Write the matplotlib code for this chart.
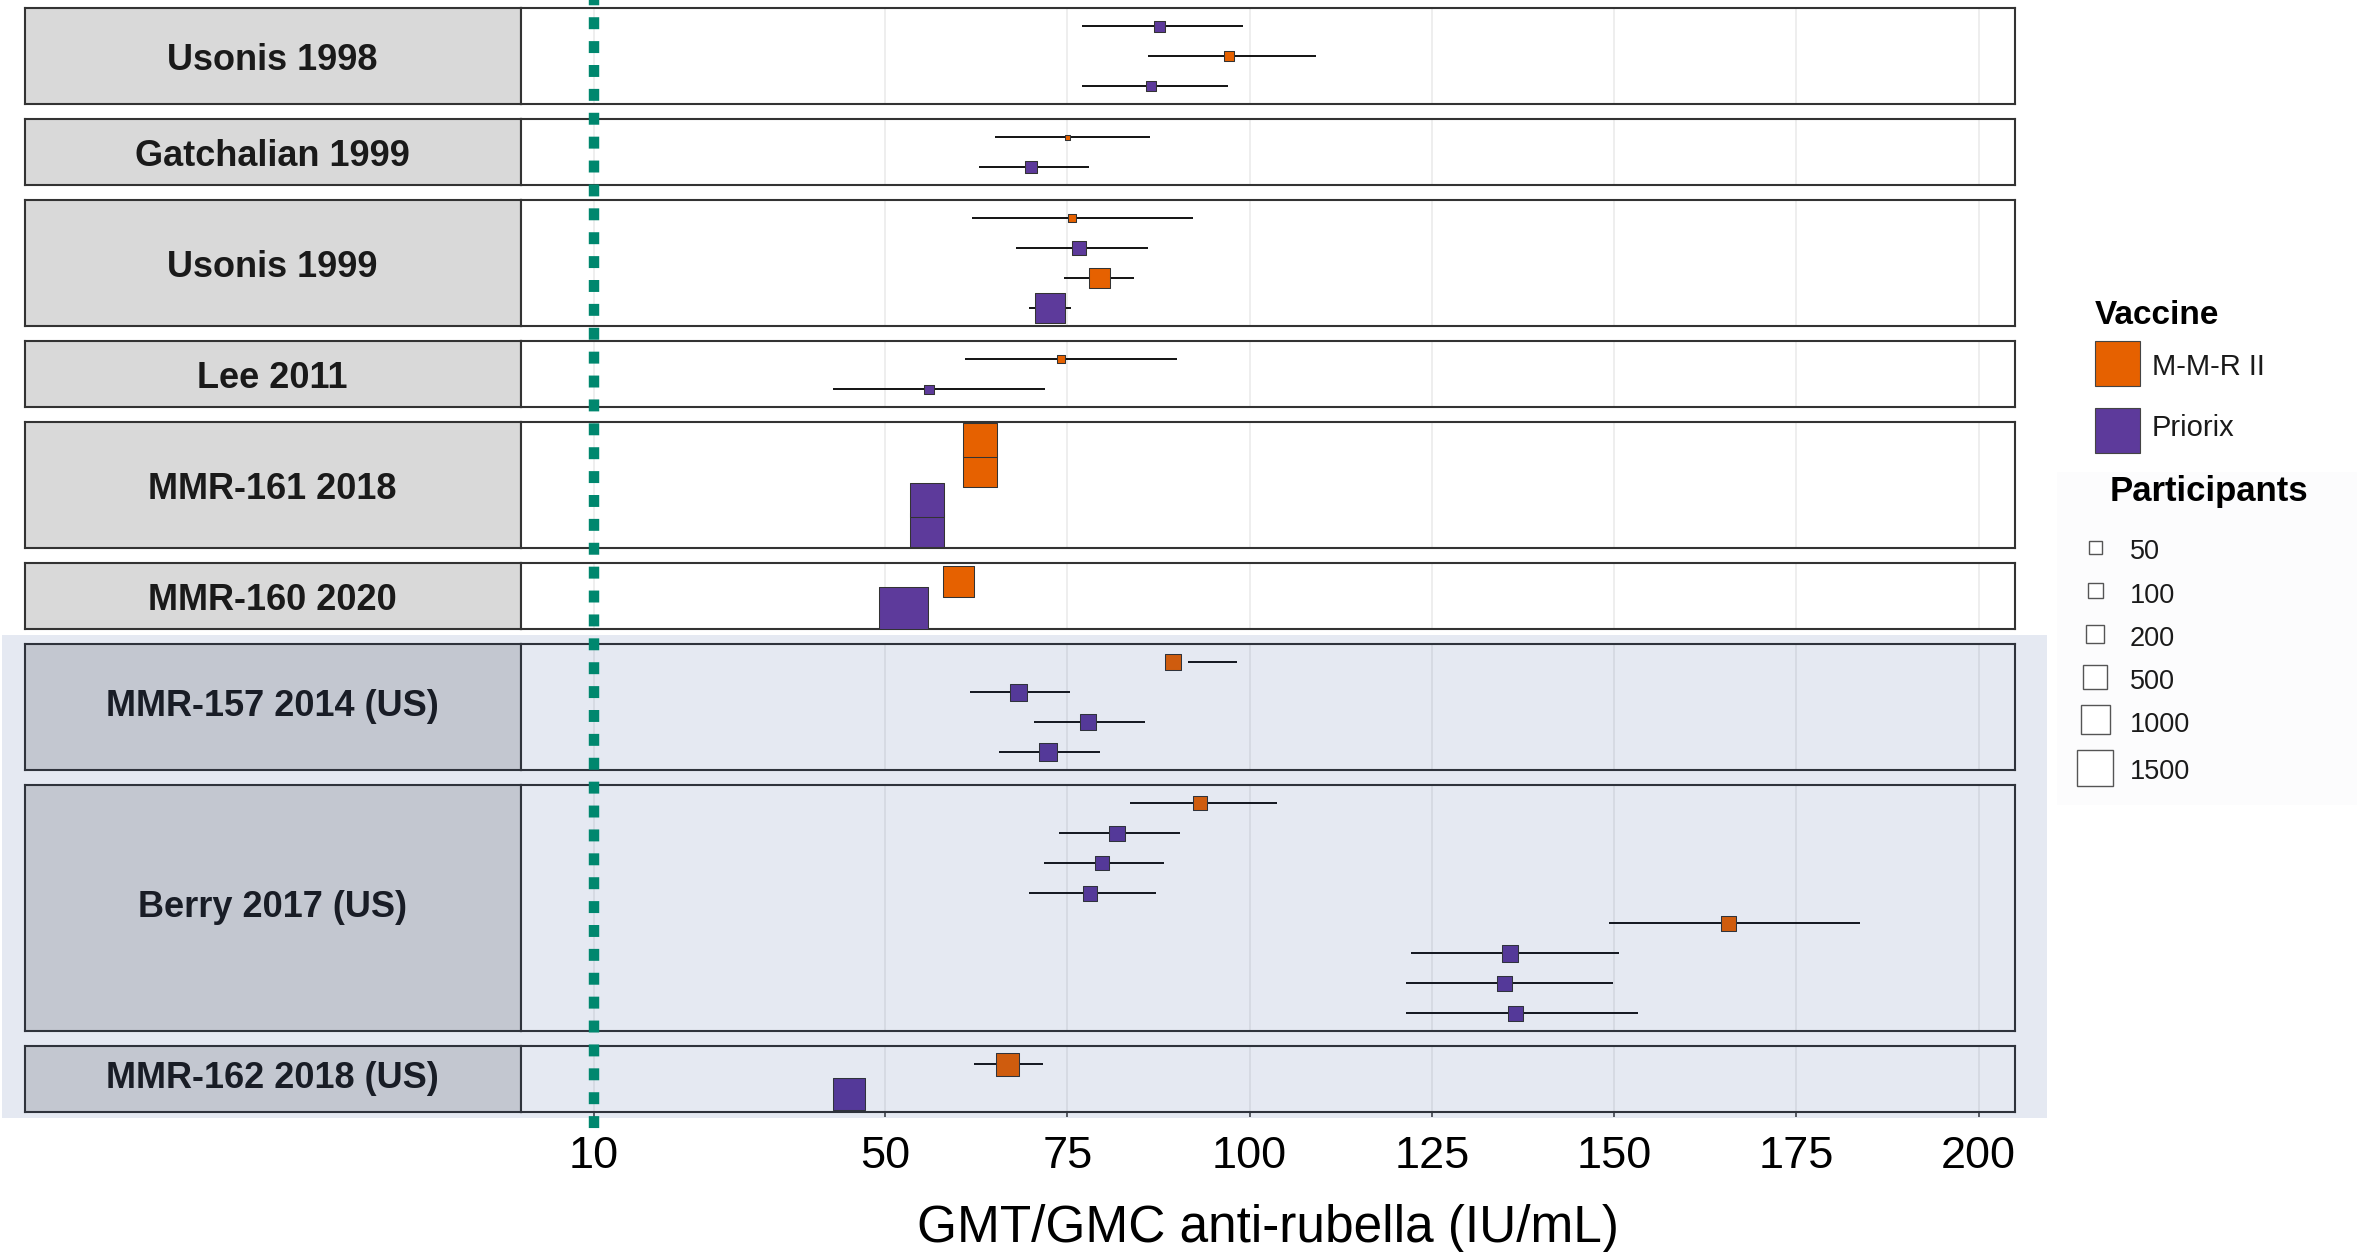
import numpy as np
import matplotlib
matplotlib.use("Agg")
import matplotlib.pyplot as plt
import matplotlib.transforms as mtransforms
from matplotlib.patches import Rectangle
from matplotlib.lines import Line2D

plt.rcParams['font.family'] = ['Liberation Sans', 'DejaVu Sans']
plt.rcParams['lines.scale_dashes'] = False

# ---- data ----
study_order = ['Usonis 1998', 'Gatchalian 1999', 'Usonis 1999', 'Lee 2011',
               'MMR-161 2018', 'MMR-160 2020', 'MMR-157 2014 (US)',
               'Berry 2017 (US)', 'MMR-162 2018 (US)']
us_studies = ['MMR-157 2014 (US)', 'Berry 2017 (US)', 'MMR-162 2018 (US)']

study = (['Usonis 1998'] * 3 + ['Gatchalian 1999'] * 2 + ['Usonis 1999'] * 4 +
         ['Lee 2011'] * 2 + ['MMR-161 2018'] * 4 + ['MMR-160 2020'] * 2 +
         ['MMR-157 2014 (US)'] * 4 + ['Berry 2017 (US)'] * 8 +
         ['MMR-162 2018 (US)'] * 2)
vaccine = ['Priorix', 'M-M-R II', 'Priorix',
           'M-M-R II', 'Priorix',
           'M-M-R II', 'Priorix', 'M-M-R II', 'Priorix',
           'M-M-R II', 'Priorix',
           'M-M-R II', 'M-M-R II', 'Priorix', 'Priorix',
           'M-M-R II', 'Priorix',
           'M-M-R II', 'Priorix', 'Priorix', 'Priorix',
           'M-M-R II', 'Priorix', 'Priorix', 'Priorix',
           'M-M-R II', 'Priorix', 'Priorix', 'Priorix',
           'M-M-R II', 'Priorix']
gmt = [87.6, 97.2, 86.5,
       75.0, 70.0,
       75.6, 76.6, 79.4, 72.6,
       74.1, 56.0,
       63.0, 63.0, 55.7, 55.8,
       60.1, 52.5,
       89.5, 68.3, 77.8, 72.3,
       93.2, 81.8, 79.7, 78.1,
       165.7, 135.7, 135.0, 136.5,
       66.8, 45.0]
ci_low = [77.0, 86.1, 77.0,
          65.0, 62.9,
          61.9, 67.9, 74.6, 69.7,
          60.9, 42.9,
          61.4, 61.4, 54.1, 54.2,
          58.6, 51.4,
          91.5, 61.7, 70.4, 65.6,
          83.6, 73.8, 71.8, 69.7,
          149.3, 122.2, 121.5, 121.5,
          62.2, 44.0]
ci_high = [99.1, 109.1, 97.0,
           86.3, 78.0,
           92.2, 86.1, 84.1, 75.5,
           90.0, 71.9,
           64.6, 64.6, 57.3, 57.4,
           61.6, 53.6,
           98.2, 75.3, 85.6, 79.5,
           103.7, 90.4, 88.2, 87.2,
           183.8, 150.7, 149.8, 153.3,
           71.7, 46.0]
participants = [39, 33, 33,
                9, 41,
                21, 73, 299, 1063,
                22, 27,
                1350, 1350, 1350, 1350,
                1137, 3376,
                139, 152, 139, 189,
                73, 108, 73, 84,
                111, 145, 111, 111,
                425, 1183]

size_breaks = [50, 100, 200, 500, 1000, 1500]
x_ticks = [10, 50, 75, 100, 125, 150, 175, 200]
threshold = 10

colors = {'M-M-R II': '#E66100', 'Priorix': '#5D3A9B'}


def side_px(n):
    # square side in pixels, area-like scale
    kn = np.sqrt([0, 50, 100, 200, 500, 1000, 1500, 3500])
    ks = [0, 14, 16, 19, 25, 30, 37, 51]
    return np.interp(np.sqrt(np.asarray(n, float)), kn, ks)


W, H = 2357, 1252
fig = plt.figure(figsize=(W / 100, H / 100), dpi=100)


def rect(x0, y0, x1, y1):
    return [x0 / W, 1 - y1 / H, (x1 - x0) / W, (y1 - y0) / H]


strip_x0, panel_x0, panel_x1 = 24.5, 520.7, 2015
row_px, gap, y = 30, 15, 8.3
border = '#333333'

axes = []
for s in study_order:
    idx = [i for i, st in enumerate(study) if st == s]
    n = len(idx)
    h = (n + 0.2) * row_px

    sax = fig.add_axes(rect(strip_x0, y, panel_x0, y + h))
    sax.set_facecolor('#D9D9D9')
    sax.set_xticks([])
    sax.set_yticks([])
    for sp in sax.spines.values():
        sp.set_color(border)
        sp.set_linewidth(1.5)
    # centre like ggplot: labels with descenders sit a little higher
    shift = -4.5 if any(c in s for c in '()gjpqy') else 1.0
    base = y + h / 2 + 13 + shift
    fig.text((strip_x0 + panel_x0) / 2 / W, 1 - base / H, s, ha='center',
             va='baseline', fontsize=26, fontweight='bold', color='#1A1A1A')

    ax = fig.add_axes(rect(panel_x0, y, panel_x1, y + h))
    ax.set_facecolor('white')
    ax.set_xlim(0, 205)
    ax.set_ylim(n + 0.6, 0.4)
    ax.set_xticks(x_ticks)
    ax.set_yticks([])
    ax.grid(axis='x', color='#EBEBEB', lw=1.2)
    ax.set_axisbelow(True)
    for sp in ax.spines.values():
        sp.set_color(border)
        sp.set_linewidth(1.5)
    ax.tick_params(axis='x', bottom=False, labelbottom=False)

    rows = np.arange(1, n + 1)
    ax.hlines(rows, [ci_low[i] for i in idx], [ci_high[i] for i in idx],
              color='black', lw=1.3, zorder=2)
    # lower rows first so that upper rows sit on top
    ridx = idx[::-1]
    sz = (np.maximum(side_px([participants[i] for i in ridx]) - 1, 1) * 0.72) ** 2
    ax.scatter([gmt[i] for i in ridx], rows[::-1], s=sz, marker='s',
               c=[colors[vaccine[i]] for i in ridx], edgecolors='#333333',
               linewidths=0.75, zorder=3)
    axes.append(ax)
    y += h + gap

last = axes[-1]
last.tick_params(axis='x', bottom=True, labelbottom=True, length=3.6, width=1.1,
                 color=border, pad=13.5, labelsize=32.5, labelcolor='black')

# translucent band over the US studies
fig.add_artist(Rectangle((2 / W, 1 - 1118 / H), 2045 / W, (1118 - 635) / H,
                         transform=fig.transFigure, facecolor=(17 / 255, 55 / 255, 141 / 255),
                         alpha=0.105, edgecolor='none', zorder=5))

# threshold line across all facets
blend = mtransforms.blended_transform_factory(last.transData, fig.transFigure)
fig.add_artist(Line2D([threshold, threshold], [1, 1 - 1132 / H], transform=blend,
                      color='#00876E', lw=7.5, linestyle=(4.8, (8.6, 8.6)),
                      solid_capstyle='butt', dash_capstyle='butt', zorder=6))

fig.text((panel_x0 + panel_x1) / 2 / W, 1 - 1241.7 / H, 'GMT/GMC anti-rubella (IU/mL)',
         ha='center', va='baseline', fontsize=37, color='black')

# ---- legends ----
fig.text(2095 / W, 1 - 323.5 / H, 'Vaccine', ha='left', va='baseline',
         fontsize=24, fontweight='bold', color='black')
for lab, y0, yb in [('M-M-R II', 341.4, 375.4), ('Priorix', 407.7, 436.4)]:
    fig.add_artist(Rectangle((2094.5 / W, 1 - (y0 + 45) / H), 45.5 / W, 45 / H,
                             transform=fig.transFigure, facecolor=colors[lab],
                             edgecolor='#444444', lw=0.8, zorder=5))
    fig.text(2151.7 / W, 1 - yb / H, lab, ha='left', va='baseline',
             fontsize=21, color='#1A1A1A')

fig.add_artist(Rectangle((2057 / W, 1 - 805 / H), 300 / W, 333 / H,
                         transform=fig.transFigure, facecolor='#FCFCFD',
                         edgecolor='none', zorder=1))
fig.text(2110 / W, 1 - 500.9 / H, 'Participants', ha='left', va='baseline',
         fontsize=25, fontweight='bold', color='black')
leg_centers = [547.5, 590.9, 633.9, 676.5, 720, 767.5]
leg_base = [559, 603, 646, 689, 732, 779.4]
for b, yc, yb in zip(size_breaks, leg_centers, leg_base):
    sd = float(side_px(b)) - 1
    fig.add_artist(Rectangle(((2095.3 - sd / 2) / W, 1 - (yc + sd / 2) / H), sd / W, sd / H,
                             transform=fig.transFigure, facecolor='white',
                             edgecolor='#555555', lw=1.0, zorder=5))
    fig.text(2130 / W, 1 - yb / H, str(b), ha='left', va='baseline',
             fontsize=19.5, color='#1A1A1A')

fig.savefig('out.png', dpi=100)
